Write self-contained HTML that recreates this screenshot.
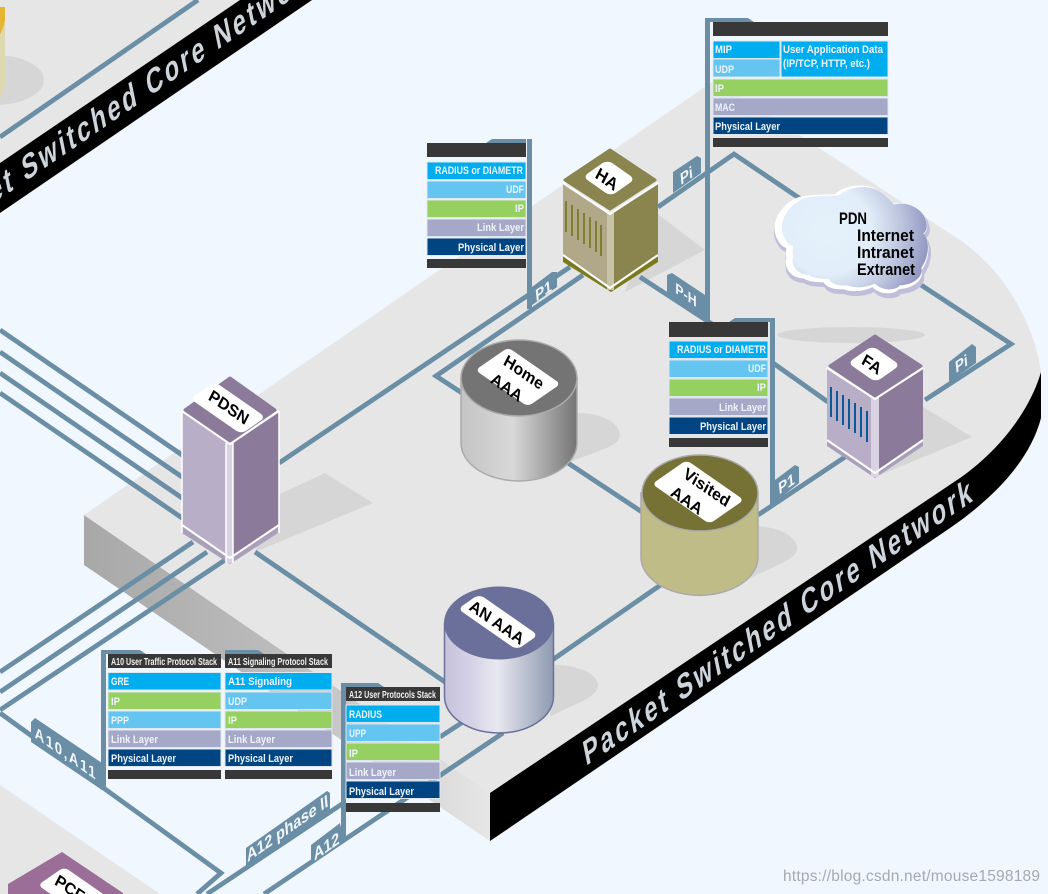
<!DOCTYPE html>
<html><head><meta charset="utf-8"><title>Packet Switched Core Network</title>
<style>
html,body{margin:0;padding:0;background:#f0f7fe}
svg{display:block;font-family:"Liberation Sans",sans-serif}
.s{font-size:11px;font-weight:bold;fill:#eef3fb}
.h{font-size:10.500px;font-weight:bold;fill:#f2f2f2}
.b{font-size:34px;font-weight:bold;fill:#cdd4dc}
.t{font-size:16px;font-weight:bold;fill:#f2f6fb;text-anchor:middle}
.n{font-weight:bold;fill:#000;text-anchor:middle;font-size:16.500px}
.l{fill:none;stroke:#6a8ea5;stroke-width:4.800}
.tab{fill:#6a8ea5}
.sh{fill:#d6d6d6}
.r{stroke:#dfe7ee;stroke-width:1}
</style></head><body>
<svg width="1048" height="894" viewBox="0 0 1048 894" xmlns="http://www.w3.org/2000/svg">
<defs>
<linearGradient id="wall" gradientUnits="userSpaceOnUse" x1="84" y1="0" x2="490" y2="0"><stop offset="0" stop-color="#a8a8a8"/><stop offset=".5" stop-color="#bdbdbd"/><stop offset="1" stop-color="#e6e6e6"/></linearGradient>
<linearGradient id="home" x1="0" x2="1" y1="0" y2="0"><stop offset="0" stop-color="#c4c4c4"/><stop offset=".45" stop-color="#d8d8d8"/><stop offset="1" stop-color="#747474"/></linearGradient>
<linearGradient id="an" x1="0" x2="1" y1="0" y2="0"><stop offset="0" stop-color="#c6c2dc"/><stop offset=".25" stop-color="#d6d2e6"/><stop offset=".48" stop-color="#e8e8f0"/><stop offset="1" stop-color="#8e9ab0"/></linearGradient>
<radialGradient id="cl" gradientUnits="userSpaceOnUse" cx="822" cy="235" r="112"><stop offset="0" stop-color="#e4f1fb"/><stop offset=".42" stop-color="#e2eef9"/><stop offset=".72" stop-color="#bcc4de"/><stop offset="1" stop-color="#8f93bf"/></radialGradient>
<path id="cloud" d="M773,232 C773,215 790,200 803,199 C815,197 825,198 835,197 C843,188 870,183 883,197 C888,201 892,205 893,207 C905,203 925,210 928,225 C930,232 928,236 925,238 C932,245 932,262 923,275 C925,285 915,293 900,294 C895,300 880,300 873,292 C863,297 850,297 843,294 C830,295 825,290 823,287 C812,287 805,285 803,283 C792,283 782,275 785,262 C784,256 785,254 785,252 C778,250 773,240 773,232 Z"/>
</defs>
<rect width="1048" height="894" fill="#f0f7fe"/>

<!-- upper-left platform -->
<polygon points="0,0 240,0 0,163" fill="#e6e6e6"/>
<polygon points="240,0 312,0 0,213 0,163" fill="#000"/>
<line class="l" x1="0" y1="137" x2="198" y2="0"/>
<ellipse cx="-5" cy="80" rx="49" ry="25" class="sh"/>
<path d="M0,7 H5 V85 Q3,94 0,98 Z" fill="#dcd8b0"/>
<path d="M0,7 H5 V20 Q3,30 0,34 Z" fill="#e4b632"/>
<text class="b" transform="matrix(.644,-.441,.2,.98,-69,246)" textLength="601" lengthAdjust="spacing">Packet Switched Core Network</text>

<!-- lower-left platform -->
<polygon points="0,785 160,894 0,894" fill="#e6e6e6"/>

<!-- main platform -->
<polygon points="84,515 490,793 490,841 84,565" fill="url(#wall)"/>
<path d="M84,515 L715,80 L960,240 C1010,275 1035,330 1041,372 C1030,410 1000,450 960,478 L490,793 Z" fill="#e6e6e6"/>
<path d="M490,793 L960,478 C1000,450 1030,410 1041,372 L1041,418 C1030,460 995,497 950,528 L490,841 Z" fill="#000"/>
<text class="b" transform="matrix(.644,-.441,.2,.98,586,766)" textLength="601" lengthAdjust="spacing">Packet Switched Core Network</text>

<!-- shadows -->
<polygon points="278,495 325,473 373,503 255,552" class="sh"/>
<polygon points="655,212 705,250 625,292" class="sh"/>
<polygon points="920,405 972,437 880,475" class="sh"/>
<ellipse cx="851" cy="335" rx="74" ry="8" class="sh"/>
<path d="M578,413 C605,413 620,425 620,435 C620,446 600,450 567,463 Z" class="sh"/>
<path d="M758,526 C782,528 797,538 797,548 C797,560 775,565 747,580 Z" class="sh"/>
<path d="M555,665 C580,665 598,675 598,685 C598,698 575,703 550,717 Z" class="sh"/>

<!-- connectors -->
<g class="l">
<line x1="0" y1="330" x2="185" y2="457"/>
<line x1="0" y1="352" x2="185" y2="479"/>
<line x1="0" y1="373" x2="185" y2="500"/>
<line x1="0" y1="393" x2="185" y2="520"/>
<line x1="0" y1="672" x2="193" y2="542"/>
<line x1="0" y1="692" x2="207" y2="552"/>
<path d="M0,710 L225,560"/>
<path d="M0,713 L221,873 L197,894"/>
<line x1="279" y1="463" x2="570" y2="267"/>
<path d="M462,393 L436,376 L583,275"/>
<line x1="255" y1="552" x2="445" y2="682"/>
<line x1="568" y1="463" x2="642" y2="512"/>
<line x1="545" y1="665" x2="662" y2="584"/>
<line x1="758" y1="515" x2="845" y2="457"/>
<path d="M658,207 L734,154 L805,202"/>
<line x1="640" y1="277" x2="712" y2="324"/>
<line x1="773" y1="363" x2="828" y2="402"/>
<path d="M925,400 L1011,344 L918,283"/>
<line x1="207" y1="894" x2="345" y2="802"/>
<line x1="264" y1="894" x2="503" y2="733"/>
<line x1="440" y1="737" x2="466" y2="720"/>
</g>

<!-- PCF -->
<polygon points="62,852 123,893 123,894 8,894 8,884" fill="#9b6e98"/>
<g transform="matrix(.82,.57,-.82,.57,74,892)"><rect x="-28" y="-16" width="56" height="32" rx="5" fill="#fff"/></g>
<text class="n" transform="matrix(.82,.57,-.45,.87,70,888)" y="6">PCF</text>

<!-- PDSN -->
<polygon points="182,526 230,559 278,526 278,533 230,564 182,533" fill="#a99fba"/>
<polygon points="182,411 228,443 228,557 182,525" fill="#b9aec8"/>
<polygon points="279,411 233,443 233,557 279,525" fill="#8b7a99"/>
<rect x="226" y="443" width="7" height="120" fill="#d8d2e2"/>
<g fill="none" stroke="#fff" stroke-width="1.500"><line x1="182" y1="411" x2="182" y2="533"/><line x1="279" y1="411" x2="279" y2="533"/><line x1="226" y1="443" x2="226" y2="563"/><line x1="233" y1="443" x2="233" y2="563"/></g>
<polyline points="182,525 230,558 279,525" fill="none" stroke="#fff" stroke-width="2"/>
<polyline points="182,411 230,444 279,411" fill="none" stroke="#fff" stroke-width="2"/>
<polygon points="230,378 275,410 230,441 185,410" fill="#8b7a99" stroke="#8b7a99" stroke-width="3" stroke-linejoin="round"/>
<g transform="matrix(.82,.57,-.82,.57,228,408)"><rect x="-31" y="-15" width="62" height="30" rx="6" fill="#fff"/></g>
<text class="n" transform="matrix(.82,.57,-.45,.87,229,407)" y="6">PDSN</text>

<!-- HA -->
<polygon points="563,254 611,287 611,292 563,262" fill="#7b7b1e"/>
<polygon points="658,254 611,287 611,292 658,262" fill="#7b7b1e"/>
<polygon points="563,183 608,213 608,287 563,255" fill="#b0a888"/>
<polygon points="658,183 613,213 613,287 658,255" fill="#8a854f"/>
<rect x="607" y="213" width="7" height="77" fill="#c8c4a8"/>
<polyline points="563,255 610,288 658,255" fill="none" stroke="#fff" stroke-width="2"/>
<polyline points="563,183 610,214 658,183" fill="none" stroke="#fff" stroke-width="2"/>
<g stroke="#7f7f30" stroke-width="2"><line x1="566" y1="201" x2="566" y2="232"/><line x1="572" y1="205" x2="572" y2="236"/><line x1="578" y1="209" x2="578" y2="240"/><line x1="584" y1="213" x2="584" y2="244"/><line x1="590" y1="217" x2="590" y2="248"/><line x1="596" y1="221" x2="596" y2="252"/><line x1="601" y1="225" x2="601" y2="256"/></g>
<polygon points="610,150 655,180 610,209 565,180" fill="#8a854f" stroke="#8a854f" stroke-width="3" stroke-linejoin="round"/>
<g transform="matrix(.82,.57,-.82,.57,609,178)"><rect x="-17" y="-15" width="34" height="30" rx="6" fill="#fff"/></g>
<text class="n" style="font-size:17px" transform="matrix(.82,.57,-.45,.87,607,179)" y="6">HA</text>

<!-- FA -->
<polygon points="827,440 875,473 875,478 827,446" fill="#a99fba"/>
<polygon points="923,440 875,473 875,478 923,446" fill="#a99fba"/>
<polygon points="827,368 872,398 872,472 827,440" fill="#b9aec8"/>
<polygon points="923,368 878,398 878,472 923,440" fill="#8b7a99"/>
<rect x="871" y="398" width="8" height="79" fill="#d8d2e2"/>
<polyline points="827,440 875,473 923,440" fill="none" stroke="#fff" stroke-width="2"/>
<polyline points="827,368 875,399 923,368" fill="none" stroke="#fff" stroke-width="2"/>
<g stroke="#0a5a98" stroke-width="2"><line x1="831" y1="387" x2="831" y2="417"/><line x1="837" y1="391" x2="837" y2="421"/><line x1="843" y1="395" x2="843" y2="425"/><line x1="849" y1="399" x2="849" y2="429"/><line x1="855" y1="403" x2="855" y2="433"/><line x1="861" y1="407" x2="861" y2="437"/><line x1="867" y1="411" x2="867" y2="442"/></g>
<polygon points="875,336 921,366 875,396 830,366" fill="#8b7a99" stroke="#8b7a99" stroke-width="3" stroke-linejoin="round"/>
<g transform="matrix(.82,.57,-.82,.57,874,364)"><rect x="-17" y="-15" width="34" height="30" rx="6" fill="#fff"/></g>
<text class="n" transform="matrix(.82,.57,-.45,.87,872,364)" y="6">FA</text>

<!-- Home AAA -->
<path d="M461,378 V443 A58,38 0 0 0 577,443 V378 Z" fill="url(#home)" stroke="#aaa" stroke-width="1.500"/>
<ellipse cx="519" cy="378" rx="58" ry="38" fill="#747474" stroke="#aaa" stroke-width="1.500"/>
<g transform="matrix(.82,.57,-.82,.57,518,377)"><rect x="-32" y="-20" width="64" height="40" rx="5" fill="#fff"/></g>
<text class="n" transform="matrix(.82,.57,-.45,.87,524,372)" y="6">Home</text>
<text class="n" transform="matrix(.82,.57,-.45,.87,507,387)" y="6">AAA</text>

<!-- Visited AAA -->
<path d="M641,493 V557 A58,38 0 0 0 758,557 V493 Z" fill="#c0bc88" stroke="#aaa" stroke-width="1.500"/>
<ellipse cx="700" cy="493" rx="58" ry="38" fill="#767236" stroke="#aaa" stroke-width="1.500"/>
<g transform="matrix(.82,.57,-.82,.57,698,492)"><rect x="-35" y="-21" width="70" height="42" rx="5" fill="#fff"/></g>
<text class="n" transform="matrix(.82,.57,-.45,.87,707,487)" y="6">Visited</text>
<text class="n" transform="matrix(.82,.57,-.45,.87,687,500)" y="6">AAA</text>

<!-- AN AAA -->
<path d="M444.500,623 V696.500 A54.500,36.500 0 0 0 553.500,696.500 V623 Z" fill="url(#an)" stroke="#6a7099" stroke-width="1.500"/>
<ellipse cx="499" cy="623" rx="55" ry="36.500" fill="#6a7099"/>
<g transform="matrix(.82,.57,-.82,.57,498,622)"><rect x="-36" y="-13" width="72" height="26" rx="6" fill="#fff"/></g>
<text class="n" transform="matrix(.82,.57,-.45,.87,497,622)" y="6">AN AAA</text>

<!-- PDN cloud -->
<use href="#cloud" fill="#bfbfdb" transform="translate(1,0)"/>
<use href="#cloud" fill="#fff" transform="translate(17,1) scale(.98)"/>
<use href="#cloud" fill="url(#cl)" transform="translate(63,12) scale(.93)"/>
<g style="font-size:16.500px;font-weight:bold;fill:#000"><text x="839" y="224" textLength="28" lengthAdjust="spacingAndGlyphs">PDN</text><text x="857" y="241" textLength="57" lengthAdjust="spacingAndGlyphs">Internet</text><text x="857" y="258" textLength="57" lengthAdjust="spacingAndGlyphs">Intranet</text><text x="857" y="275" textLength="58" lengthAdjust="spacingAndGlyphs">Extranet</text></g>

<!-- poles and tabs -->
<g class="tab">
<rect x="705" y="18" width="5" height="306"/><polygon points="710,18 748,18 754,22 710,22"/>
<rect x="527" y="139" width="5" height="170"/><polygon points="526,139 492,139 486,143 526,143"/>
<rect x="770" y="318" width="5" height="186"/><polygon points="770,318 735,318 729,322 770,322"/>
<rect x="101" y="650" width="5" height="140"/><polygon points="106,650 140,650 146,654 106,654"/>
<polygon points="225,650 258,650 264,654 225,654"/>
<rect x="341" y="683" width="5" height="157"/><polygon points="346,683 378,683 384,687 346,687"/>
<polygon points="528,290 552,272 557,272 557,287 528,308"/>
<polygon points="673,172 697,156 701,158 701,173 673,193"/>
<polygon points="667,275 672,273 705,295 705,318 667,292"/>
<polygon points="949,362 972,344 976,347 976,363 949,382"/>
<polygon points="775,480 795,465 799,467 799,483 775,502"/>
<polygon points="31,722 35,718 102,763 102,790 31,742"/>
<polygon points="246,848 327,791 330,793 330,810 246,868"/>
<polygon points="311,845 340,823 343,838 311,865"/>
</g>
<text class="t" transform="matrix(.82,-.57,.1,1,544,296)">P1</text>
<text class="t" transform="matrix(.82,-.57,.1,1,687,181)">Pi</text>
<text class="t" style="font-size:15px" transform="matrix(.82,.57,0,1,686,300)">P-H</text>
<text class="t" transform="matrix(.82,-.57,.1,1,962,369)">Pi</text>
<text class="t" transform="matrix(.82,-.57,.1,1,787,489)">P1</text>
<text class="t" style="font-size:16px;letter-spacing:2px" transform="matrix(.82,.57,0,1,66,759)">A10,A11</text>
<text class="t" style="font-size:17px" transform="matrix(.82,-.57,.1,1,288,834)">A12 phase II</text>
<text class="t" style="font-size:17px" transform="matrix(.82,-.57,.1,1,327,852)">A12</text>

<!-- top-right stack -->
<rect x="713" y="22" width="175" height="14" fill="#383838"/>
<g class="r">
<rect x="713" y="41" width="67" height="17.500" fill="#00aeef"/><rect x="713" y="59" width="67" height="18" fill="#63c5f0"/>
<rect x="781" y="41" width="107" height="36" fill="#00aeef"/>
<rect x="713" y="79" width="175" height="17.500" fill="#96d060"/><rect x="713" y="98" width="175" height="17.500" fill="#a6a8c8"/><rect x="713" y="117" width="175" height="17.500" fill="#004481"/>
</g>
<rect x="713" y="138" width="175" height="9" fill="#383838"/>
<g class="s"><text x="715" y="53" textLength="17" lengthAdjust="spacingAndGlyphs">MIP</text><text x="715" y="73" textLength="19" lengthAdjust="spacingAndGlyphs">UDP</text><text x="783" y="53" textLength="100" lengthAdjust="spacingAndGlyphs">User Application Data</text><text x="783" y="67" textLength="87" lengthAdjust="spacingAndGlyphs">(IP/TCP, HTTP, etc.)</text><text x="715" y="92" textLength="9" lengthAdjust="spacingAndGlyphs">IP</text><text x="715" y="111" textLength="20" lengthAdjust="spacingAndGlyphs">MAC</text><text x="715" y="130" textLength="65" lengthAdjust="spacingAndGlyphs">Physical Layer</text></g>

<!-- HA stack -->
<rect x="427" y="143" width="99" height="14" fill="#383838"/>
<g class="r"><rect x="427" y="162" width="99" height="17.500" fill="#00aeef"/><rect x="427" y="181" width="99" height="17.500" fill="#63c5f0"/><rect x="427" y="200" width="99" height="17.500" fill="#96d060"/><rect x="427" y="219" width="99" height="17.500" fill="#a6a8c8"/><rect x="427" y="238" width="99" height="17.500" fill="#004481"/></g>
<rect x="427" y="259" width="99" height="9" fill="#383838"/>
<g class="s"><text x="435" y="174" textLength="88" lengthAdjust="spacingAndGlyphs">RADIUS or DIAMETR</text><text x="506" y="193" textLength="18" lengthAdjust="spacingAndGlyphs">UDF</text><text x="515" y="212" textLength="9" lengthAdjust="spacingAndGlyphs">IP</text><text x="477" y="231" textLength="47" lengthAdjust="spacingAndGlyphs">Link Layer</text><text x="458" y="251" textLength="66" lengthAdjust="spacingAndGlyphs">Physical Layer</text></g>

<!-- mid stack -->
<rect x="669" y="322" width="99" height="15" fill="#383838"/>
<g class="r"><rect x="669" y="341" width="99" height="17.500" fill="#00aeef"/><rect x="669" y="360" width="99" height="17.500" fill="#63c5f0"/><rect x="669" y="379" width="99" height="17.500" fill="#96d060"/><rect x="669" y="398" width="99" height="17.500" fill="#a6a8c8"/><rect x="669" y="417" width="99" height="17.500" fill="#004481"/></g>
<rect x="669" y="438" width="99" height="9" fill="#383838"/>
<g class="s"><text x="677" y="353" textLength="89" lengthAdjust="spacingAndGlyphs">RADIUS or DIAMETR</text><text x="748" y="372" textLength="18" lengthAdjust="spacingAndGlyphs">UDF</text><text x="757" y="391" textLength="9" lengthAdjust="spacingAndGlyphs">IP</text><text x="719" y="411" textLength="47" lengthAdjust="spacingAndGlyphs">Link Layer</text><text x="700" y="430" textLength="66" lengthAdjust="spacingAndGlyphs">Physical Layer</text></g>

<!-- A10 stack -->
<rect x="108" y="654" width="113" height="14" fill="#383838"/>
<g class="r"><rect x="108" y="672.500" width="113" height="17.500" fill="#00aeef"/><rect x="108" y="692" width="113" height="17.500" fill="#96d060"/><rect x="108" y="711" width="113" height="17.500" fill="#63c5f0"/><rect x="108" y="730" width="113" height="17.500" fill="#a6a8c8"/><rect x="108" y="749" width="113" height="17.500" fill="#004481"/></g>
<rect x="108" y="770" width="113" height="9" fill="#383838"/>
<text class="h" x="111" y="665" textLength="106" lengthAdjust="spacingAndGlyphs">A10 User Traffic Protocol Stack</text>
<g class="s"><text x="111" y="685" textLength="18" lengthAdjust="spacingAndGlyphs">GRE</text><text x="111" y="705" textLength="9" lengthAdjust="spacingAndGlyphs">IP</text><text x="111" y="724" textLength="18" lengthAdjust="spacingAndGlyphs">PPP</text><text x="111" y="743" textLength="47" lengthAdjust="spacingAndGlyphs">Link Layer</text><text x="111" y="762" textLength="65" lengthAdjust="spacingAndGlyphs">Physical Layer</text></g>

<!-- A11 stack -->
<rect x="225" y="654" width="107" height="14" fill="#383838"/>
<g class="r"><rect x="225" y="672.500" width="107" height="17.500" fill="#00aeef"/><rect x="225" y="692" width="107" height="17.500" fill="#63c5f0"/><rect x="225" y="711" width="107" height="17.500" fill="#96d060"/><rect x="225" y="730" width="107" height="17.500" fill="#a6a8c8"/><rect x="225" y="749" width="107" height="17.500" fill="#004481"/></g>
<rect x="225" y="770" width="107" height="9" fill="#383838"/>
<text class="h" x="228" y="665" textLength="100" lengthAdjust="spacingAndGlyphs">A11 Signaling Protocol Stack</text>
<g class="s"><text x="228" y="685" textLength="64" lengthAdjust="spacingAndGlyphs">A11 Signaling</text><text x="228" y="705" textLength="19" lengthAdjust="spacingAndGlyphs">UDP</text><text x="228" y="724" textLength="9" lengthAdjust="spacingAndGlyphs">IP</text><text x="228" y="743" textLength="47" lengthAdjust="spacingAndGlyphs">Link Layer</text><text x="228" y="762" textLength="65" lengthAdjust="spacingAndGlyphs">Physical Layer</text></g>

<!-- A12 stack -->
<rect x="346" y="687" width="94" height="14" fill="#383838"/>
<g class="r"><rect x="346" y="705" width="94" height="17.500" fill="#00aeef"/><rect x="346" y="724" width="94" height="17.500" fill="#63c5f0"/><rect x="346" y="743" width="94" height="17.500" fill="#96d060"/><rect x="346" y="762" width="94" height="17.500" fill="#a6a8c8"/><rect x="346" y="781" width="94" height="17.500" fill="#004481"/></g>
<rect x="346" y="803" width="94" height="9" fill="#383838"/>
<text class="h" x="349" y="698" textLength="87" lengthAdjust="spacingAndGlyphs">A12 User Protocols Stack</text>
<g class="s"><text x="349" y="718" textLength="33" lengthAdjust="spacingAndGlyphs">RADIUS</text><text x="349" y="737" textLength="17" lengthAdjust="spacingAndGlyphs">UPP</text><text x="349" y="757" textLength="9" lengthAdjust="spacingAndGlyphs">IP</text><text x="349" y="776" textLength="47" lengthAdjust="spacingAndGlyphs">Link Layer</text><text x="349" y="795" textLength="65" lengthAdjust="spacingAndGlyphs">Physical Layer</text></g>

<text x="783" y="881" style="font-size:15.500px;fill:#a4aab0" textLength="257">https://blog.csdn.net/mouse1598189</text>
</svg>
</body></html>
